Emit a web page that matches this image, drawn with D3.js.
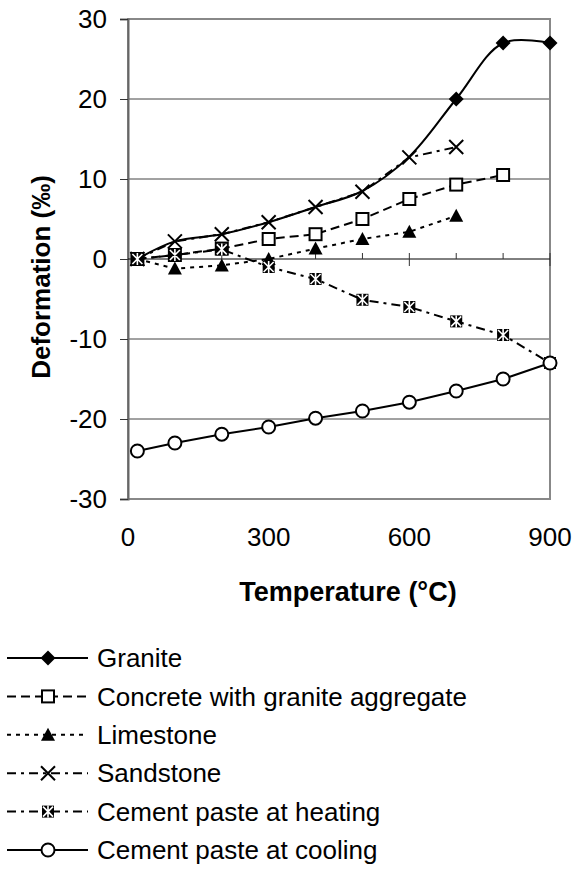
<!DOCTYPE html>
<html>
<head>
<meta charset="utf-8">
<script src="https://cdn.jsdelivr.net/npm/d3@7"></script>
<style>
  body { margin: 0; background: #fff; }
  svg text { font-family: "Liberation Sans", Arial, sans-serif; fill: #000; }
</style>
</head>
<body>
<div id="chart"></div>
<script>
// data
const temps = [20, 100, 200, 300, 400, 500, 600, 700, 800, 900];
const granite = [0, 2.2, 3.1, 4.6, 6.5, 8.5, 12.8, 20, 27, 27];
const concrete = [0, 0.5, 1.3, 2.5, 3.1, 5, 7.5, 9.3, 10.5];
const limestone = [0, -1.2, -0.8, 0, 1.3, 2.5, 3.4, 5.4];
const sandstone = [0, 2.2, 3.1, 4.6, 6.5, 8.4, 12.7, 14];
const heating = [0, 0.5, 1.2, -1, -2.5, -5.1, -6, -7.8, -9.5, -13];
const cooling = [-24, -23, -21.9, -21, -19.9, -19, -17.9, -16.5, -15, -13];
const seriesNames = ["Granite", "Concrete with granite aggregate", "Limestone",
  "Sandstone", "Cement paste at heating", "Cement paste at cooling"];
const xTicks = [0, 300, 600, 900];
const yTicks = [-30, -20, -10, 0, 10, 20, 30];

const width = 573, height = 875;
const plot = {left: 128, right: 550, top: 19, bottom: 499};
const fontSize = "26px";

const svg = d3.select("#chart").append("svg")
  .attr("width", width)
  .attr("height", height);

const x = d3.scaleLinear().domain([0, 900]).range([plot.left, plot.right]);
const y = d3.scaleLinear().domain([-30, 30]).range([plot.bottom, plot.top]);

// gridlines
svg.append("g").selectAll("line")
  .data(yTicks.filter(d => d != 0 && Math.abs(d) != 30))
  .enter().append("line")
  .attr("x1", plot.left).attr("x2", plot.right)
  .attr("y1", d => y(d)).attr("y2", d => y(d))
  .attr("stroke", "#444").attr("stroke-width", 1);

// frame
svg.append("rect")
  .attr("x", plot.left).attr("y", plot.top)
  .attr("width", plot.right - plot.left).attr("height", plot.bottom - plot.top)
  .attr("fill", "none").attr("stroke", "#888").attr("stroke-width", 2);

// y axis
const yAxis = svg.append("g")
  .attr("transform", "translate(" + plot.left + ",0)")
  .call(d3.axisLeft(y).tickValues(yTicks).tickSize(8).tickPadding(13)
    .tickFormat(d => String(d)));
yAxis.select(".domain").attr("stroke", "#666").attr("stroke-width", 2);
yAxis.selectAll(".tick line").attr("stroke", "#333");
yAxis.selectAll("text").style("font-size", fontSize);

// x axis sits on the zero line
const xAxisG = svg.append("g").attr("transform", "translate(0," + y(0) + ")");
xAxisG.append("line")
  .attr("x1", plot.left).attr("x2", plot.right)
  .attr("stroke", "#000").attr("stroke-width", 1);
xAxisG.selectAll(".minor")
  .data(d3.range(100, 901, 100))
  .enter().append("line")
  .attr("x1", d => x(d)).attr("x2", d => x(d))
  .attr("y1", d => d % 300 == 0 ? 7 : 0).attr("y2", -6)
  .attr("stroke", "#333").attr("stroke-width", 1);

svg.append("g").selectAll("text")
  .data(xTicks)
  .enter().append("text")
  .attr("x", d => x(d))
  .attr("y", 546)
  .attr("text-anchor", "middle")
  .style("font-size", fontSize)
  .text(d => d);

// axis titles
svg.append("text")
  .attr("x", 348)
  .attr("y", 601)
  .attr("text-anchor", "middle")
  .style("font-size", "27px").style("font-weight", "bold")
  .text("Temperature (°C)");
svg.append("text")
  .attr("transform", "translate(50,277) rotate(-90)")
  .attr("text-anchor", "middle")
  .style("font-size", "26px").style("font-weight", "bold")
  .text("Deformation (‰)");

// marker painters
function marker(g, kind) {
  if (kind == "diamond") {
    g.append("path").attr("d", "M0,-7.5L7.5,0L0,7.5L-7.5,0Z").attr("fill", "#000");
  } else if (kind == "square") {
    g.append("rect").attr("x", -6).attr("y", -6).attr("width", 12).attr("height", 12)
      .attr("fill", "#fff").attr("stroke", "#000").attr("stroke-width", 2);
  } else if (kind == "triangle") {
    g.append("path").attr("d", "M0,-7L7,6L-7,6Z").attr("fill", "#000");
  } else if (kind == "cross") {
    g.append("path").attr("d", "M-7,-7L7,7M-7,7L7,-7")
      .attr("stroke", "#000").attr("stroke-width", 2).attr("fill", "none");
  } else if (kind == "star") {
    g.append("rect").attr("x", -6).attr("y", -6).attr("width", 12).attr("height", 12).attr("fill", "#000");
    g.append("path").attr("d", "M-5,-5L5,5M-5,5L5,-5M0,-6L0,6")
      .attr("stroke", "#fff").attr("stroke-width", 1.6);
  } else if (kind == "circle") {
    g.append("circle").attr("r", 6.5)
      .attr("fill", "#fff").attr("stroke", "#000").attr("stroke-width", 2);
  }
}

const series = [
  {name: seriesNames[0], values: granite, dash: null, mark: "diamond", curve: d3.curveCatmullRom},
  {name: seriesNames[1], values: concrete, dash: "9,5", mark: "square", curve: d3.curveLinear},
  {name: seriesNames[2], values: limestone, dash: "4,5", mark: "triangle", curve: d3.curveLinear},
  {name: seriesNames[3], values: sandstone, dash: "9,5,3,5", mark: "cross", curve: d3.curveLinear},
  {name: seriesNames[4], values: heating, dash: "9,5,3,5", mark: "star", curve: d3.curveLinear},
  {name: seriesNames[5], values: cooling, dash: null, mark: "circle", curve: d3.curveLinear}
];

series.forEach(function(s) {
  const pts = s.values.map((v, i) => ({t: temps[i], v: v}));
  const line = d3.line().x(d => x(d.t)).y(d => y(d.v)).curve(s.curve);
  svg.append("path")
    .datum(pts)
    .attr("d", line)
    .attr("fill", "none")
    .attr("stroke", "#000")
    .attr("stroke-width", 2)
    .attr("stroke-dasharray", s.dash);
  // granite markers only show above 600 in the original
  const shown = s.mark == "diamond" ? pts.filter(d => d.t > 600) : pts;
  shown.forEach(function(d) {
    marker(svg.append("g").attr("transform", "translate(" + x(d.t) + "," + y(d.v) + ")"), s.mark);
  });
});

// legend
const legend = svg.append("g");
series.forEach(function(s, i) {
  const ly = 658 + i * 38.4;
  const row = legend.append("g").attr("transform", "translate(0," + ly + ")");
  row.append("line")
    .attr("x1", 7).attr("x2", 88)
    .attr("stroke", "#000").attr("stroke-width", 2)
    .attr("stroke-dasharray", s.dash);
  marker(row.append("g").attr("transform", "translate(48,0)"), s.mark);
  row.append("text")
    .attr("x", 97).attr("y", 0)
    .attr("dy", "0.35em")
    .style("font-size", fontSize)
    .text(s.name);
});
</script>
</body>
</html>
